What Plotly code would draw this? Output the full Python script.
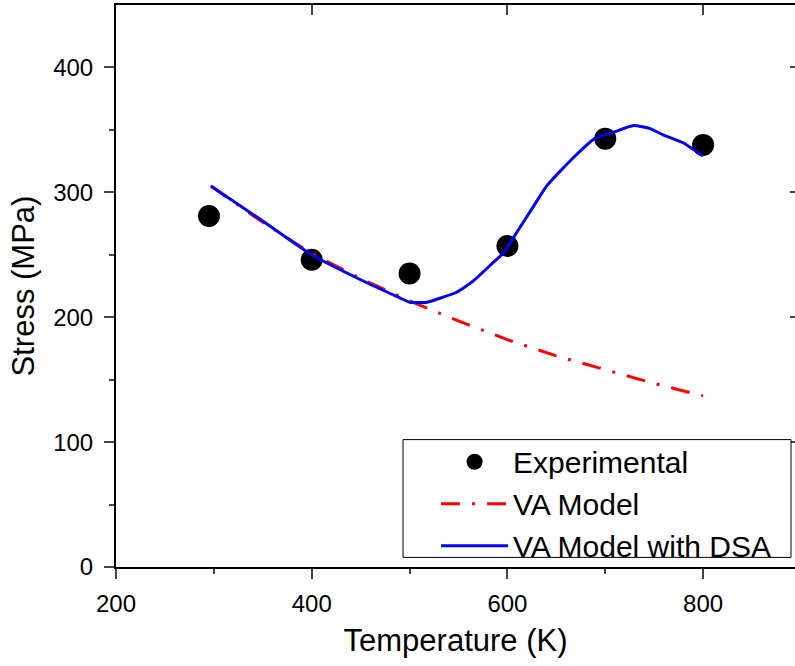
import plotly.graph_objects as go

# experimental points
temp_exp = [295, 400, 500, 600, 700, 800]
stress_exp = [281, 246, 235, 257, 343, 338]

# VA model
temp_va = [297, 350, 400, 450, 500, 550, 600, 650, 700, 750, 800]
stress_va = [305, 276, 251, 231, 213, 197, 182, 169, 158, 147, 137]

# VA model with DSA
temp_dsa = [297, 350, 400, 450, 490, 500, 518, 534, 548, 565, 585, 596, 608,
            626, 640, 654, 671, 689, 708, 729, 746, 759, 780, 800]
stress_dsa = [305, 277, 250, 230, 215.5, 212, 212, 216, 220, 229, 243.5, 251.5, 266,
              288, 305, 317, 330.5, 343, 348, 353.5, 351, 346, 339.5, 329]

x_ticks = [200, 400, 600, 800]
y_ticks = [0, 100, 200, 300, 400]

FONT = "Liberation Sans, Arial, sans-serif"
x_range = [200, 893.9]
y_range = [0, 450]

fig = go.Figure()
fig.add_trace(go.Scatter(x=temp_exp, y=stress_exp, mode="markers", name="Experimental",
                         marker=dict(color="black", size=22)))
fig.add_trace(go.Scatter(x=temp_va, y=stress_va, mode="lines", name="VA Model",
                         line=dict(color="#ff0000", width=3, dash="19px,12px,3px,12px")))
fig.add_trace(go.Scatter(x=temp_dsa, y=stress_dsa, mode="lines", name="VA Model with DSA",
                         line=dict(color="#0000ff", width=3, shape="spline", smoothing=0.5)))
# dummy trace so the mirrored top/right axes get drawn
fig.add_trace(go.Scatter(x=[None], y=[None], xaxis="x2", yaxis="y2", showlegend=False,
                         hoverinfo="skip"))

# legend frame
fig.add_shape(type="rect", xref="paper", yref="paper", x0=0.4227, x1=0.9941, y0=0.0171, y1=0.2267,
              line=dict(color="black", width=1), fillcolor="white", layer="above")

fig.update_layout(
    width=795, height=666,
    margin=dict(l=116, r=0, t=5, b=99),
    paper_bgcolor="white", plot_bgcolor="white",
    font=dict(family=FONT, color="black"),
    showlegend=True,
    legend=dict(x=0.4714, y=0.2335, xanchor="left", yanchor="top",
                borderwidth=0, bgcolor="rgba(0,0,0,0)",
                font=dict(size=30), itemwidth=67, tracegroupgap=0),
    xaxis=dict(range=x_range, tickvals=x_ticks, ticks="outside", ticklen=10, tickwidth=2,
               showline=True, linewidth=2, linecolor="black", showgrid=False, zeroline=False,
               tickfont=dict(size=24), ticklabelstandoff=4,
               minor=dict(tickvals=[300, 500, 700], ticks="outside", ticklen=5, tickwidth=2),
               title=dict(text="Temperature (K)", font=dict(size=31), standoff=14)),
    yaxis=dict(range=y_range, tickvals=y_ticks, ticks="outside", ticklen=10, tickwidth=2,
               showline=True, linewidth=2, linecolor="black", showgrid=False, zeroline=False,
               tickfont=dict(size=24), ticklabelstandoff=6,
               minor=dict(tickvals=[50, 150, 250, 350], ticks="outside", ticklen=5, tickwidth=2),
               title=dict(text="Stress (MPa)", font=dict(size=31), standoff=9)),
    xaxis2=dict(overlaying="x", side="top", range=x_range, tickvals=x_ticks, ticks="inside",
                ticklen=10, tickwidth=2, showticklabels=False, showline=True, linewidth=2,
                linecolor="black", showgrid=False, zeroline=False),
    yaxis2=dict(overlaying="y", side="right", range=y_range, tickvals=y_ticks, ticks="inside",
                ticklen=5, tickwidth=2, showticklabels=False, showline=False,
                showgrid=False, zeroline=False),
)

fig.write_html("out.html", config={"displayModeBar": False},
               post_script="document.body.style.margin='0';document.body.style.overflow='hidden';")
